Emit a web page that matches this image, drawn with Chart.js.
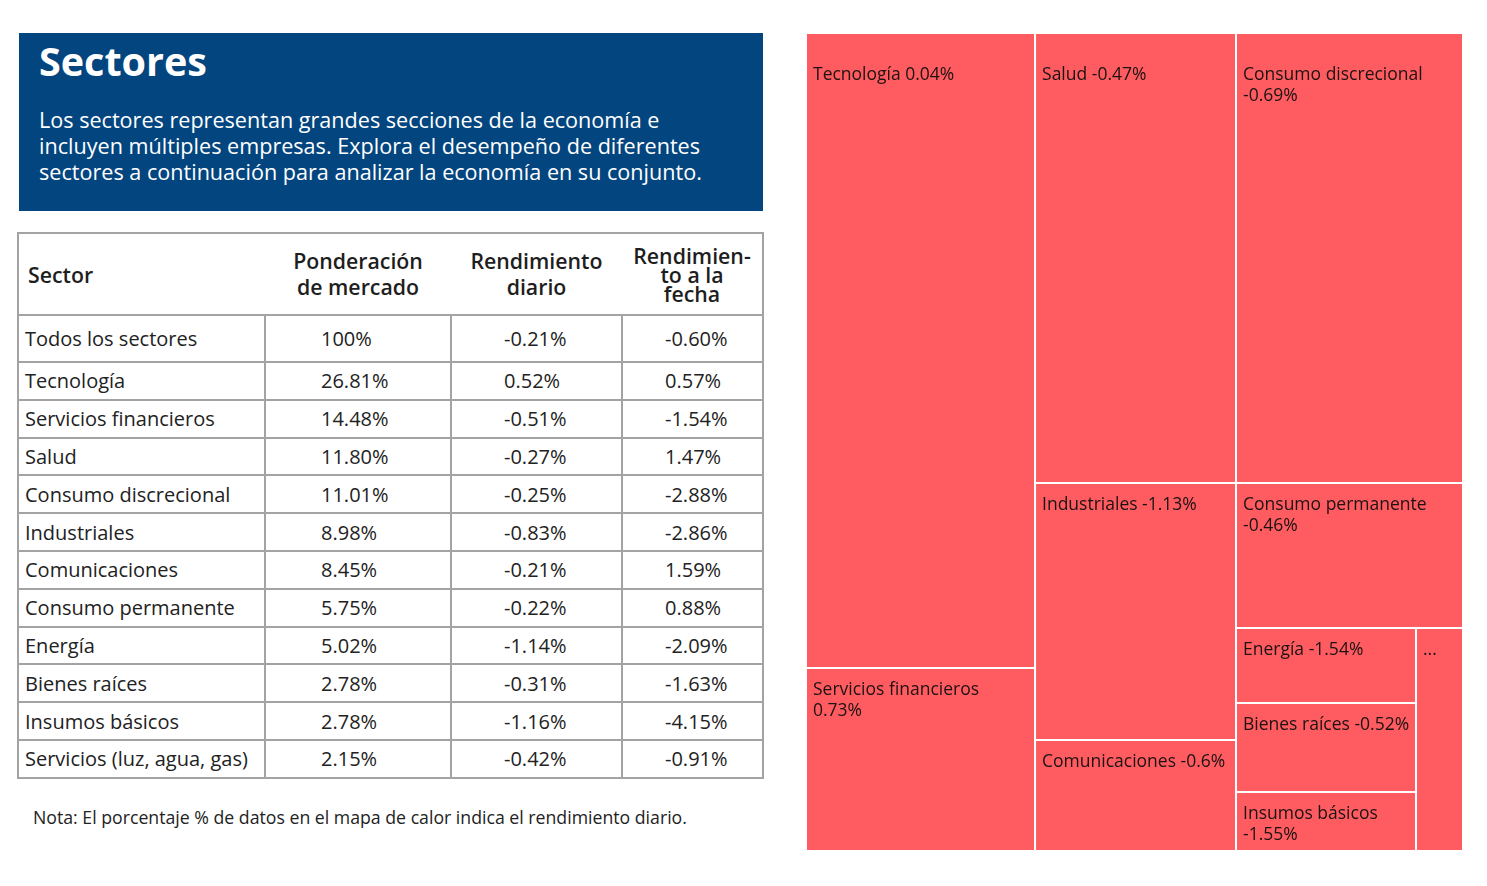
<!DOCTYPE html>
<html lang="es">
<head>
<meta charset="utf-8">
<title>Sectores</title>
<script src="https://cdn.jsdelivr.net/npm/chart.js@4.4.1/dist/chart.umd.min.js"></script>
<style>
  html, body { margin: 0; padding: 0; background: #ffffff; }
  body { width: 1487px; height: 886px; position: relative; overflow: hidden; font-family: "Open Sans", "Noto Sans", sans-serif; color: #222; }
  #hero { position: absolute; left: 19px; top: 33px; width: 744px; height: 178px; background: #03457F; color: #fff; }
  #hero h1 { position: absolute; left: 20px; top: 8px; margin: 0; font-size: 39.5px; line-height: 40px; font-weight: 700; }
  #hero p { position: absolute; left: 20px; top: 74px; margin: 0; font-size: 21.6px; line-height: 26px; font-weight: 400; white-space: nowrap; }
  #tbl { position: absolute; left: 17px; top: 232px; width: 745px; border-collapse: collapse; table-layout: fixed; border: 2px solid #a3a3a3; }
  #tbl th { font-size: 21.3px; font-weight: 600; color: #1e1e1e; height: 80px; vertical-align: middle; text-align: center; padding: 0; }
  #tbl th.first { text-align: left; padding-left: 9px; }
  #tbl th.c4 { line-height: 19px; }
  #tbl th.c2, #tbl th.c3 { line-height: 26px; }
  #tbl td { font-size: 20px; color: #222; border: 2px solid #a3a3a3; height: 35.8px; padding: 0; vertical-align: middle; white-space: nowrap; }
  #tbl tr.total td { height: 45px; }
  #tbl td.c1 { padding-left: 6px; }
  #tbl td.c2 { padding-left: 55px; }
  #tbl td.c3 { padding-left: 52px; }
  #tbl td.c4 { padding-left: 42px; }
  #note { position: absolute; left: 33px; top: 805px; font-size: 17.7px; color: #222; white-space: nowrap; }
  #treemapBox { position: absolute; left: 806px; top: 33px; width: 657px; height: 818px; }
</style>
</head>
<body>
<div id="hero">
  <h1>Sectores</h1>
  <p>Los sectores representan grandes secciones de la economía e<br>incluyen múltiples empresas. Explora el desempeño de diferentes<br>sectores a continuación para analizar la economía en su conjunto.</p>
</div>
<table id="tbl">
  <colgroup><col style="width:247px"><col style="width:186px"><col style="width:171px"><col style="width:141px"></colgroup>
  <thead>
    <tr>
      <th class="first">Sector</th>
      <th class="c2">Ponderación<br>de mercado</th>
      <th class="c3">Rendimiento<br>diario</th>
      <th class="c4">Rendimien-<br>to a la<br>fecha</th>
    </tr>
  </thead>
  <tbody id="tbody"></tbody>
</table>
<div id="note">Nota: El porcentaje % de datos en el mapa de calor indica el rendimiento diario.</div>
<div id="treemapBox"><canvas id="treemap"></canvas></div>

<script>
// ---------- Table data ----------
const tableSectors = ['Todos los sectores', 'Tecnología', 'Servicios financieros', 'Salud', 'Consumo discrecional', 'Industriales', 'Comunicaciones', 'Consumo permanente', 'Energía', 'Bienes raíces', 'Insumos básicos', 'Servicios (luz, agua, gas)'];
const marketWeight = ['100%', '26.81%', '14.48%', '11.80%', '11.01%', '8.98%', '8.45%', '5.75%', '5.02%', '2.78%', '2.78%', '2.15%'];
const dailyPerf = ['-0.21%', '0.52%', '-0.51%', '-0.27%', '-0.25%', '-0.83%', '-0.21%', '-0.22%', '-1.14%', '-0.31%', '-1.16%', '-0.42%'];
const ytdPerf = ['-0.60%', '0.57%', '-1.54%', '1.47%', '-2.88%', '-2.86%', '1.59%', '0.88%', '-2.09%', '-1.63%', '-4.15%', '-0.91%'];

// ---------- Treemap data ----------
const treemapLabels = ['Tecnología', 'Servicios financieros', 'Salud', 'Consumo discrecional', 'Industriales', 'Comunicaciones', 'Consumo permanente', 'Energía', 'Bienes raíces', 'Insumos básicos', 'Servicios (luz, agua, gas)'];
const treemapWeights = [27.06, 7.80, 16.83, 19.01, 9.61, 4.15, 6.12, 2.51, 2.98, 1.98, 1.95];
const treemapDaily = [0.04, 0.73, -0.47, -0.69, -1.13, -0.6, -0.46, -1.54, -0.52, -1.55, null];
// grouping of the tiles: 'h' = side by side, 'v' = stacked; numbers are indices into treemapLabels
const treemapTiling = ['h', ['v', 0, 1], ['v', ['h', 2, 3], ['h', ['v', 4, 5], ['v', 6, ['h', ['v', 7, 8, 9], 10]]]]];

// build table
const tbody = document.getElementById('tbody');
tableSectors.forEach((s, i) => {
  const tr = document.createElement('tr');
  if (i === 0) tr.className = 'total';
  [s, marketWeight[i], dailyPerf[i], ytdPerf[i]].forEach((v, j) => {
    const td = document.createElement('td');
    td.className = 'c' + (j + 1);
    td.textContent = v;
    tr.appendChild(td);
  });
  tbody.appendChild(tr);
});

// treemap layout (slice by weight inside each group)
function groupWeight(node) {
  if (typeof node === 'number') return treemapWeights[node];
  return node.slice(1).reduce((s, c) => s + groupWeight(c), 0);
}
function layoutNode(node, x0, y0, x1, y1, out) {
  if (typeof node === 'number') { out[node] = { x0, y0, x1, y1 }; return; }
  const dir = node[0];
  const kids = node.slice(1);
  const total = groupWeight(node);
  let acc = 0;
  kids.forEach(k => {
    const f0 = acc / total;
    acc += groupWeight(k);
    const f1 = acc / total;
    if (dir === 'h') layoutNode(k, x0 + (x1 - x0) * f0, y0, x0 + (x1 - x0) * f1, y1, out);
    else layoutNode(k, x0, y0 + (y1 - y0) * f0, x1, y0 + (y1 - y0) * f1, out);
  });
}
const rects = [];
layoutNode(treemapTiling, 0, 0, 1, 1, rects);

const datasets = rects.map((r, i) => ({
  label: treemapLabels[i],
  data: [
    { x: r.x0, y: r.y0 }, { x: r.x1, y: r.y0 }, { x: r.x1, y: r.y1 }, { x: r.x0, y: r.y1 }, { x: r.x0, y: r.y0 }
  ],
  showLine: true,
  fill: 'shape',
  backgroundColor: '#FF5C61',
  borderColor: '#ffffff',
  borderWidth: 2,
  pointRadius: 0,
  pointHoverRadius: 0,
  tension: 0,
  borderJoinStyle: 'miter'
}));

const tileLabels = {
  id: 'tileLabels',
  afterDatasetsDraw(chart) {
    const ctx = chart.ctx;
    const xs = chart.scales.x, ys = chart.scales.y;
    ctx.save();
    ctx.font = '17.5px "Open Sans"';
    ctx.fillStyle = '#1c1212';
    ctx.textBaseline = 'alphabetic';
    ctx.textAlign = 'left';
    rects.forEach((r, i) => {
      const left = xs.getPixelForValue(r.x0);
      const right = xs.getPixelForValue(r.x1);
      const top = ys.getPixelForValue(r.y0);
      const w = right - left;
      const padL = 7;
      const base = top + 27 + (r.y0 === 0 ? 20 : 0);
      const val = treemapDaily[i];
      const valText = val === null ? '' : String(val) + '%';
      const full = treemapLabels[i] + (valText ? ' ' + valText : '');
      let lines;
      if (ctx.measureText(full).width + 12 <= w) lines = [full];
      else if (ctx.measureText(treemapLabels[i]).width + 12 <= w) lines = [treemapLabels[i], valText];
      else lines = ['...'];
      lines.forEach((t, k) => ctx.fillText(t, left + padL, base + k * 21));
    });
    ctx.restore();
  }
};

new Chart(document.getElementById('treemap'), {
  type: 'scatter',
  data: { datasets },
  options: {
    responsive: true,
    maintainAspectRatio: false,
    animation: false,
    layout: { padding: 0 },
    scales: {
      x: { type: 'linear', min: 0, max: 1, display: false },
      y: { type: 'linear', min: 0, max: 1, reverse: true, display: false }
    },
    plugins: {
      legend: { display: false },
      tooltip: { enabled: false },
      filler: { drawTime: 'beforeDatasetsDraw' }
    },
    events: []
  },
  plugins: [tileLabels]
});
</script>
</body>
</html>
